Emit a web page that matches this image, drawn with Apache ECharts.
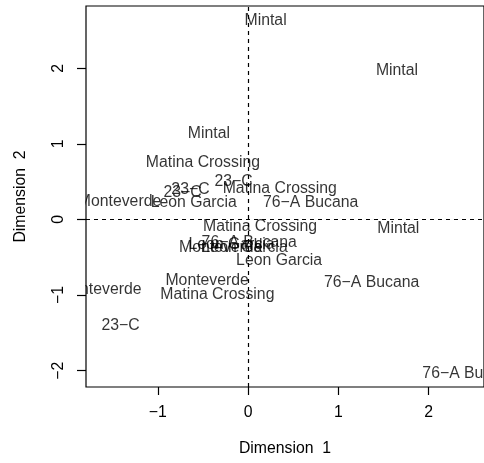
<!DOCTYPE html>
<html>
<head>
<meta charset="utf-8">
<script src="https://cdn.jsdelivr.net/npm/echarts@6/dist/echarts.min.js"></script>
<style>
  html, body { margin: 0; padding: 0; background: #fff; }
  #chart { width: 484px; height: 463px; }
</style>
</head>
<body>
<div id="chart"></div>
<script>
// Site label for each sample, with its coordinates on the two MDS dimensions
const sites = [
  'Mintal', 'Mintal', 'Mintal', 'Mintal',
  'Matina Crossing', 'Matina Crossing', 'Matina Crossing', 'Matina Crossing',
  '23\u2212C', '23\u2212C', '23\u2212C', '23\u2212C',
  'Monteverde', 'Monteverde', 'Monteverde', 'Monteverde',
  'Leon Garcia', 'Leon Garcia', 'Leon Garcia', 'Leon Garcia',
  '76\u2212A Bucana', '76\u2212A Bucana', '76\u2212A Bucana', '76\u2212A Bucana'
];
const dim1 = [
  0.194, 1.649, -0.434, 1.664,
  -0.500, 0.351, 0.133, -0.340,
  -0.161, -0.725, -0.638, -1.413,
  -1.424, -1.642, -0.303, -0.453,
  -0.602, -0.183, -0.038, 0.344,
  0.693, 0.013, 1.369, 2.458
];
const dim2 = [
  2.630, 1.968, 1.140, -0.126,
  0.757, 0.407, -0.095, -0.989,
  0.500, 0.360, 0.390, -1.409,
  0.235, -0.923, -0.377, -0.810,
  0.222, -0.337, -0.377, -0.545,
  0.222, -0.307, -0.831, -2.034
];
const xTicks = [-1, 0, 1, 2];
const yTicks = [-2, -1, 0, 1, 2];
const xRange = [-1.795, 2.613];
const yRange = [-2.216, 2.824];

const FONT = "'Liberation Sans', Arial, sans-serif";
const FS = 15.8;
const fmtNum = v => String(v).replace('-', '\u2212');

const points = sites.map((s, i) => [dim1[i], dim2[i], s]);

const chart = echarts.init(document.getElementById('chart'), null, { renderer: 'canvas' });
chart.setOption({
  animation: false,
  backgroundColor: '#fff',
  grid: {
    left: 86, top: 6, width: 404, height: 381,
    show: true, borderColor: '#000', borderWidth: 1.2,
    backgroundColor: 'transparent', z: 60
  },
  xAxis: {
    type: 'value', min: xRange[0], max: xRange[1], z: 60,
    axisLine: { show: false, onZero: false },
    splitLine: { show: false },
    axisTick: { show: true, inside: false, customValues: xTicks, length: 8, lineStyle: { color: '#000', width: 1.2 } },
    axisLabel: {
      customValues: xTicks, formatter: fmtNum, margin: 18,
      color: '#000', fontSize: FS, fontFamily: FONT
    },
    name: 'Dimension  1', nameLocation: 'middle', nameGap: 54,
    nameTextStyle: { color: '#000', fontSize: FS, fontFamily: FONT }
  },
  yAxis: {
    type: 'value', min: yRange[0], max: yRange[1], z: 60,
    axisLine: { show: false, onZero: false },
    splitLine: { show: false },
    axisTick: { show: true, inside: false, customValues: yTicks, length: 9, lineStyle: { color: '#000', width: 1.2 } },
    axisLabel: {
      customValues: yTicks, formatter: fmtNum, rotate: 90, margin: 19,
      color: '#000', fontSize: FS, fontFamily: FONT
    },
    name: 'Dimension  2', nameLocation: 'middle', nameGap: 57,
    nameTextStyle: { color: '#000', fontSize: FS, fontFamily: FONT }
  },
  // White band left of the plot box so labels are clipped at the box edge
  graphic: {
    elements: [{
      type: 'rect', silent: true, z: 50,
      shape: { x: 0, y: 0, width: 85.4, height: 463 },
      style: { fill: '#fff' }
    }]
  },
  series: [{
    type: 'scatter',
    data: points,
    symbolSize: 1,
    itemStyle: { color: 'rgba(0,0,0,0)' },
    label: {
      show: true, position: 'inside',
      formatter: p => p.data[2],
      color: '#000', fontSize: FS, fontFamily: FONT,
      textBorderWidth: 0, align: 'center', verticalAlign: 'middle'
    },
    emphasis: { disabled: true },
    markLine: {
      silent: true, symbol: 'none',
      label: { show: false },
      lineStyle: { color: '#000', type: [4, 4], width: 1.2 },
      data: [{ xAxis: 0 }, { yAxis: 0 }]
    }
  }]
});
</script>
</body>
</html>
